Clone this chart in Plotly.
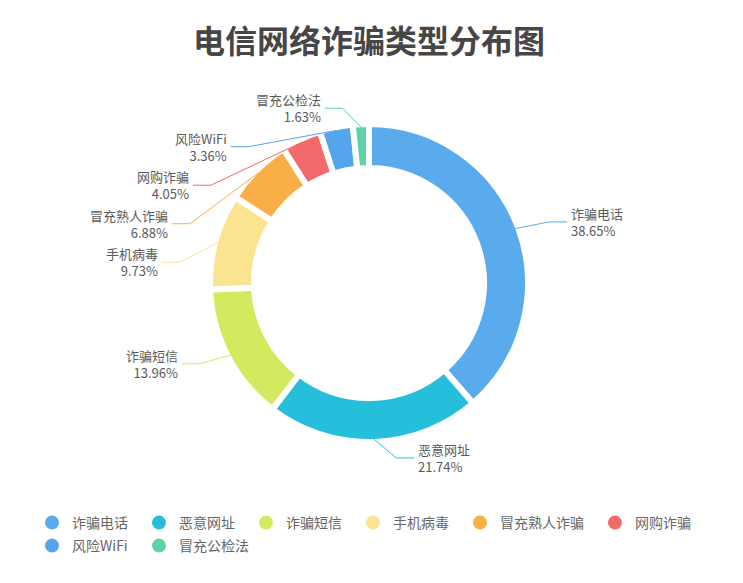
import math
import plotly.graph_objects as go

# ---------------- data ----------------
categories = ["诈骗电话", "恶意网址", "诈骗短信", "手机病毒", "冒充熟人诈骗", "网购诈骗", "风险WiFi", "冒充公检法"]
values = [38.65, 21.74, 13.96, 9.73, 6.88, 4.05, 3.36, 1.63]
colors = ["#5AABEE", "#26BFDB", "#D5E95E", "#FBE48F", "#F9AF46", "#F36A6A", "#55A5EE", "#5DD2A6"]
title_text = "电信网络诈骗类型分布图"

# ---------------- layout constants (page pixels) ----------------
PAGE_W, PAGE_H = 743, 583
OFF = 8                      # browser body margin
W, H = PAGE_W - 2 * OFF, PAGE_H - 2 * OFF
CX, CY = 369, 283            # pie centre
R_VIS = 156                  # visible outer radius
R_IN_VIS = 118               # visible inner radius
GAP = 6                      # white gap between slices
L1, L2 = 35, 18              # label line lengths
LABEL_H = 38.5               # vertical space per label
BOUND = R_VIS + 19           # vertical label radius / limit from centre
FONT = "Noto Sans CJK SC"

R_GEO = R_VIS + GAP / 2
hole = (R_IN_VIS - GAP / 2) / R_GEO


def px(x):
    return (x - OFF) / W


def py(y):
    return 1 - (y - OFF) / H


fig = go.Figure()
fig.add_trace(go.Pie(
    labels=categories, values=values, sort=False, direction="clockwise", rotation=0,
    hole=hole, textinfo="none", hoverinfo="label+percent",
    marker=dict(colors=colors, line=dict(color="white", width=GAP)),
    domain=dict(x=[px(CX - R_GEO), px(CX + R_GEO)], y=[py(CY + R_GEO), py(CY - R_GEO)]),
    showlegend=False,
))

# ---------------- outside labels with leader lines ----------------
total = sum(values)
cum = 0.0
items = []
for i, v in enumerate(values):
    mid = (cum + v / 2) / total * 2 * math.pi
    cum += v
    s, c = math.sin(mid), math.cos(mid)
    items.append(dict(i=i, sx=CX + R_VIS * s, sy=CY - R_VIS * c,
                      y=CY - BOUND * c, side=1 if s >= 0 else -1))

for side in (1, -1):
    lst = sorted([it for it in items if it["side"] == side], key=lambda t: t["y"])
    prev = None
    for it in lst:
        lo = CY - BOUND if prev is None else prev + LABEL_H
        it["y"] = max(it["y"], lo, CY - BOUND)
        prev = it["y"]
    nxt = None
    for it in reversed(lst):
        hi = CY + BOUND if nxt is None else nxt - LABEL_H
        it["y"] = min(it["y"], hi, CY + BOUND)
        nxt = it["y"]

rA = R_VIS + L1
rB = BOUND + 1.6
shapes = []
annotations = []
for it in items:
    i, side = it["i"], it["side"]
    ey = it["y"]
    dy = ey - CY
    ex = CX + 1 + side * rA * math.sqrt(max(0.0, 1 - (dy / rB) ** 2))
    endx = ex + side * L2
    shapes.append(dict(
        type="path", xref="paper", yref="paper",
        path=f"M {px(it['sx'])},{py(it['sy'])} L {px(ex)},{py(ey)} L {px(endx)},{py(ey)}",
        line=dict(color=colors[i], width=1),
    ))
    tx = endx + side * 3
    anchor = "left" if side > 0 else "right"
    annotations.append(dict(
        text=f"{categories[i]}<br>{values[i]:.2f}%", x=px(tx), y=py(ey),
        xref="paper", yref="paper", xanchor=anchor, yanchor="middle",
        showarrow=False, align=anchor, borderpad=0,
        font=dict(family=FONT, size=13, color="#5a5a5a"),
    ))

# ---------------- legend (circle markers, echarts-like flow) ----------------
def text_w(t, size=14):
    return sum(size if ord(ch) > 255 else size * 0.5 for ch in t)

LEG_X0, LEG_Y0, LEG_ROW = 42.5, 523, 23
lx, row = LEG_X0, 0
for i, name in enumerate(categories):
    wd = 25 + 5 + text_w(name) + 21
    if lx + wd > PAGE_W - 20:
        lx, row = LEG_X0, row + 1
    mc = lx + 12.5
    lname = "legend" if i == 0 else f"legend{i + 1}"
    fig.add_trace(go.Scatter(
        x=[None], y=[None], mode="markers", name=name, legend=lname,
        marker=dict(symbol="circle", size=14, color=colors[i]), hoverinfo="skip",
    ))
    fig.layout[lname] = dict(
        x=px(mc - 23), y=py(LEG_Y0 + row * LEG_ROW), xanchor="left", yanchor="middle",
        orientation="h", bgcolor="rgba(0,0,0,0)", borderwidth=0,
        font=dict(family=FONT, size=14, color="#666666"),
        itemclick=False, itemdoubleclick=False,
    )
    lx += wd

fig.update_layout(
    width=W, height=H, margin=dict(l=0, r=0, t=0, b=0),
    paper_bgcolor="white", plot_bgcolor="white",
    title=dict(text=title_text, x=px(369), xanchor="center", y=py(42), yanchor="middle",
               font=dict(family=FONT, size=32, color="#464646", weight="bold")),
    xaxis=dict(visible=False), yaxis=dict(visible=False),
    shapes=shapes, annotations=annotations,
)

fig.write_html("out.html")
